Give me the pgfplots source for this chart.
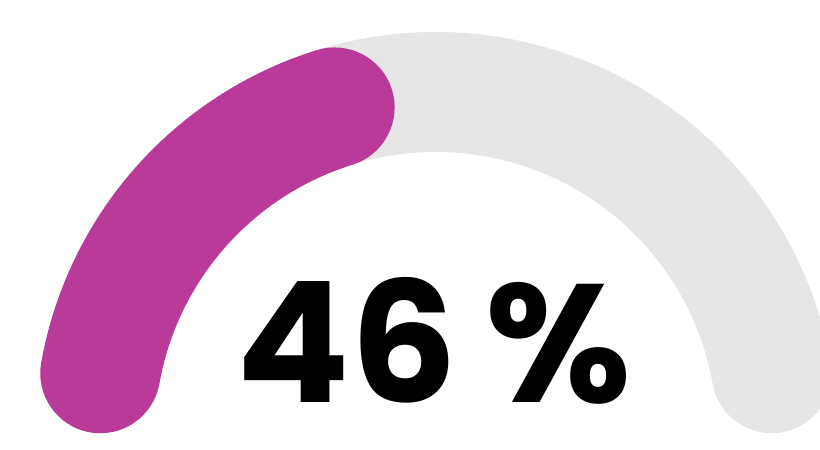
\documentclass[border=0pt]{standalone}
\usepackage{pgfplots}
\pgfplotsset{compat=1.18}
\usepackage{fontspec}
\newfontfamily\numfont{Poppins}[UprightFont=* Bold]
\definecolor{gaugefill}{RGB}{186,58,153}
\definecolor{gaugebg}{RGB}{230,230,230}
\begin{document}
\begin{tikzpicture}
\path[use as bounding box] (0,0) rectangle (820pt,450pt);
\clip (0,0) rectangle (820pt,450pt);
\begin{axis}[
  at={(0,0)}, anchor=south west,
  x=1pt, y=1pt, xmin=0, xmax=820, ymin=0, ymax=450,
  hide axis, clip=false]
% gauge value (percent)
\pgfmathsetmacro{\val}{46}
% geometry: centre, centre-line radius, band width, cap angle
\pgfmathsetmacro{\cx}{436}
\pgfmathsetmacro{\cy}{17}
\pgfmathsetmacro{\R}{341}
\pgfmathsetmacro{\cap}{10.1}
\pgfmathsetmacro{\sa}{180-\cap}
\pgfmathsetmacro{\ea}{\cap}
\pgfmathsetmacro{\va}{180-1.8*\val+\cap}
\pgfmathsetmacro{\sx}{\cx+\R*cos(\sa)}
\pgfmathsetmacro{\sy}{\cy+\R*sin(\sa)}
\draw[gaugebg, line width=120pt, line cap=round]
  (axis cs:\sx,\sy) arc[start angle=\sa, end angle=\ea, radius=\R pt];
\draw[gaugefill, line width=120pt, line cap=round]
  (axis cs:\sx,\sy) arc[start angle=\sa, end angle=\va, radius=\R pt];
\node[anchor=base, inner sep=0pt, text=black]
  at (axis cs:434,47) {\numfont\fontsize{168}{168}\selectfont 46\,\%};
\end{axis}
\end{tikzpicture}
\end{document}
